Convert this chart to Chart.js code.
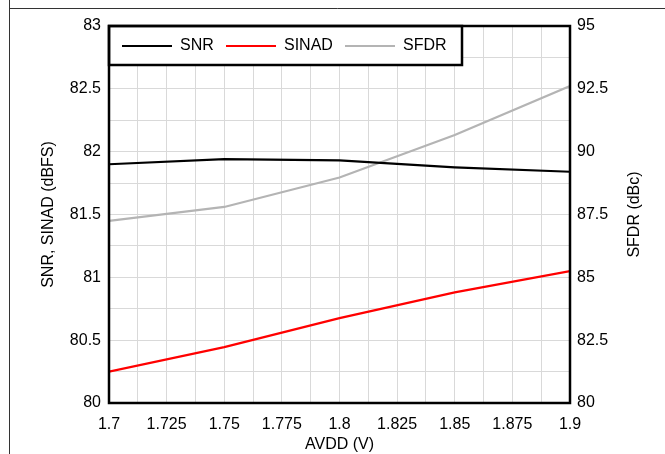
<!DOCTYPE html>
<html>
<head>
<meta charset="utf-8">
<script src="https://cdn.jsdelivr.net/npm/chart.js@4/dist/chart.umd.min.js"></script>
<style>
  html, body { margin: 0; padding: 0; background: #fff; }
  canvas { display: block; }
</style>
</head>
<body>
<canvas id="chart" width="665" height="454"></canvas>
<script>
// values
const avdd = [1.7, 1.75, 1.8, 1.85, 1.9];
const snr = [81.90, 81.94, 81.93, 81.875, 81.84];
const sinad = [80.25, 80.445, 80.675, 80.88, 81.05];
const sfdr = [87.25, 87.8, 88.97, 90.66, 92.61];

const seriesNames = ["SNR", "SINAD", "SFDR"];
const seriesColors = ["#000000", "#ff0000", "#b4b4b4"];

const FONT = "'Liberation Sans', Arial, sans-serif";

const pts = (ys) => avdd.map((x, i) => ({ x: x, y: ys[i] }));

// frame, plot border, boxed legend and the right axis title (reads upward)
const decor = {
  id: "decor",
  beforeDraw(chart) {
    const ctx = chart.ctx;
    ctx.save();
    ctx.strokeStyle = "#333";
    ctx.lineWidth = 1;
    ctx.beginPath();
    ctx.moveTo(9.5, 0);
    ctx.lineTo(9.5, 454);
    ctx.moveTo(9.5, 8.5);
    ctx.lineTo(665, 8.5);
    ctx.stroke();
    ctx.restore();
  },
  afterDatasetsDraw(chart) {
    const ctx = chart.ctx;
    const a = chart.chartArea;
    ctx.save();
    // legend box
    ctx.fillStyle = "#fff";
    ctx.fillRect(a.left, a.top, 353, 39);
    ctx.strokeStyle = "#000";
    ctx.lineWidth = 2.5;
    ctx.strokeRect(a.left, a.top, 353, 39);
    const starts = [122, 226, 345];
    ctx.font = "16px " + FONT;
    ctx.textBaseline = "middle";
    const ly = a.top + 20;
    seriesNames.forEach((name, i) => {
      ctx.strokeStyle = seriesColors[i];
      ctx.lineWidth = 2.2;
      ctx.beginPath();
      ctx.moveTo(starts[i], ly);
      ctx.lineTo(starts[i] + 50, ly);
      ctx.stroke();
      ctx.fillStyle = "#000";
      ctx.fillText(name, starts[i] + 58, ly);
    });
    // plot border
    ctx.strokeStyle = "#000";
    ctx.lineWidth = 2.5;
    ctx.strokeRect(a.left, a.top, a.right - a.left, a.bottom - a.top);
    // right axis title
    ctx.translate(635, (a.top + a.bottom) / 2);
    ctx.rotate(-Math.PI / 2);
    ctx.textAlign = "center";
    ctx.fillStyle = "#000";
    ctx.fillText("SFDR (dBc)", 0, 0);
    ctx.restore();
  }
};

const fmt = (v) => String(Math.round(v * 10000) / 10000);

new Chart(document.getElementById("chart"), {
  type: "line",
  data: {
    datasets: [
      { label: seriesNames[0], data: pts(snr), borderColor: seriesColors[0], yAxisID: "y" },
      { label: seriesNames[1], data: pts(sinad), borderColor: seriesColors[1], yAxisID: "y" },
      { label: seriesNames[2], data: pts(sfdr), borderColor: seriesColors[2], yAxisID: "y2" }
    ]
  },
  options: {
    responsive: false,
    devicePixelRatio: 1,
    animation: false,
    layout: { padding: { top: 26, left: 0, right: 0, bottom: 0 } },
    elements: {
      line: { borderWidth: 2.2, tension: 0, fill: false },
      point: { radius: 0 }
    },
    plugins: { legend: { display: false }, tooltip: { enabled: false } },
    scales: {
      x: {
        type: "linear",
        min: 1.7,
        max: 1.9,
        afterFit: (s) => { s.height = 51; },
        grid: { color: "#d9d9d9", lineWidth: 1, drawTicks: false },
        border: { display: false },
        ticks: {
          stepSize: 0.0125,
          autoSkip: false,
          maxRotation: 0,
          padding: 12,
          color: "#000",
          font: { family: FONT, size: 16 },
          callback: (v, i) => (i % 2 === 0 ? fmt(v) : "")
        },
        title: {
          display: true,
          text: "AVDD (V)",
          color: "#000",
          font: { family: FONT, size: 16 },
          padding: { top: 4.4, bottom: 0 }
        }
      },
      y: {
        position: "left",
        min: 80,
        max: 83,
        afterFit: (s) => { s.width = 109; },
        grid: { color: "#d9d9d9", lineWidth: 1, drawTicks: false },
        border: { display: false },
        ticks: {
          stepSize: 0.25,
          autoSkip: false,
          padding: 8,
          color: "#000",
          font: { family: FONT, size: 16 },
          callback: (v) => (Math.abs(v * 2 - Math.round(v * 2)) < 1e-6 ? fmt(v) : "")
        },
        title: {
          display: true,
          text: "SNR, SINAD (dBFS)",
          color: "#000",
          font: { family: FONT, size: 16 },
          padding: { top: 39.4, bottom: 0 }
        }
      },
      y2: {
        position: "right",
        min: 80,
        max: 95,
        afterFit: (s) => { s.width = 95; },
        grid: { display: false, drawTicks: false },
        border: { display: false },
        ticks: {
          stepSize: 2.5,
          autoSkip: false,
          padding: 7,
          color: "#000",
          font: { family: FONT, size: 16 },
          callback: (v) => fmt(v)
        }
      }
    }
  },
  plugins: [decor]
});
</script>
</body>
</html>
